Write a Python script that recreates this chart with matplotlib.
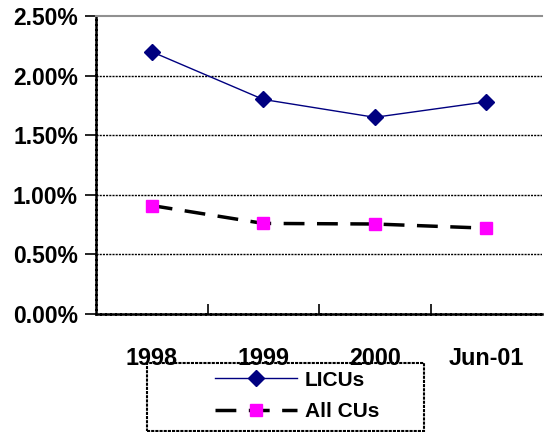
import matplotlib
matplotlib.use('Agg')
import matplotlib.pyplot as plt
from matplotlib.patches import Rectangle
from matplotlib.ticker import FuncFormatter

# data (percent)
categories = ['1998', '1999', '2000', 'Jun-01']
licus = [2.20, 1.80, 1.65, 1.78]
all_cus = [0.91, 0.76, 0.755, 0.72]

plt.rcParams['font.family'] = 'Liberation Sans'
plt.rcParams['font.weight'] = 'bold'

fig = plt.figure(figsize=(5.45, 4.32), dpi=100)
ax = fig.add_axes([96 / 545, 1 - 314 / 432, 446 / 545, 298 / 432])

x = list(range(len(categories)))
ax.plot(x, licus, color='#000080', lw=1.0, marker='D', ms=8,
        mfc='#000080', mec='#000080', label='LICUs', zorder=3)
ax.plot(x, all_cus, color='black', lw=2.5, dashes=(6.0, 3.6),
        marker='s', ms=8.5, mfc='#ff00ff', mec='#ff00ff',
        label='All CUs', zorder=3)

ax.set_xlim(-0.5, len(categories) - 0.5)
ax.set_ylim(0, 2.5)
ax.set_yticks([0, 0.5, 1.0, 1.5, 2.0, 2.5])
ax.yaxis.set_major_formatter(FuncFormatter(lambda v, p: f'{v:.2f}%'))
ax.set_xticks(x)
ax.set_xticklabels(categories)
ax.set_xticks([0.5, 1.5, 2.5], minor=True)

ax.tick_params(axis='y', direction='out', length=8, width=1.2, pad=5,
               labelsize=16.5)
ax.tick_params(axis='x', which='major', length=0, pad=24, labelsize=16.8)
ax.tick_params(axis='x', which='minor', direction='in', length=7, width=1.2)
for lab in ax.get_xticklabels() + ax.get_yticklabels():
    lab.set_fontweight('bold')

for yv in [0.5, 1.0, 1.5, 2.0]:
    ax.axhline(yv, color='black', lw=1.0, ls=(0, (1.5, 0.8)), zorder=1)

ax.spines['left'].set_linestyle((0, (1.5, 0.5)))
ax.spines['left'].set_linewidth(1.8)
ax.spines['bottom'].set_linestyle((0, (1.5, 0.5)))
ax.spines['bottom'].set_linewidth(1.8)
ax.spines['top'].set_color('#909090')
ax.spines['top'].set_linewidth(1.5)
ax.spines['right'].set_visible(False)

# legend box
box = Rectangle((147 / 545, 1 - 431 / 432), 277 / 545, 68 / 432,
                transform=fig.transFigure, fill=False, ec='black',
                lw=1.5, ls=(0, (1.5, 0.5)))
fig.patches.append(box)
fig.legend(loc='center left', bbox_to_anchor=(205 / 545, 1 - 396 / 432),
           frameon=False, handlelength=3.9, handletextpad=0.4,
           labelspacing=0.6, borderpad=0, prop={'weight': 'bold', 'size': 15})

fig.savefig('out.png', dpi=100)
